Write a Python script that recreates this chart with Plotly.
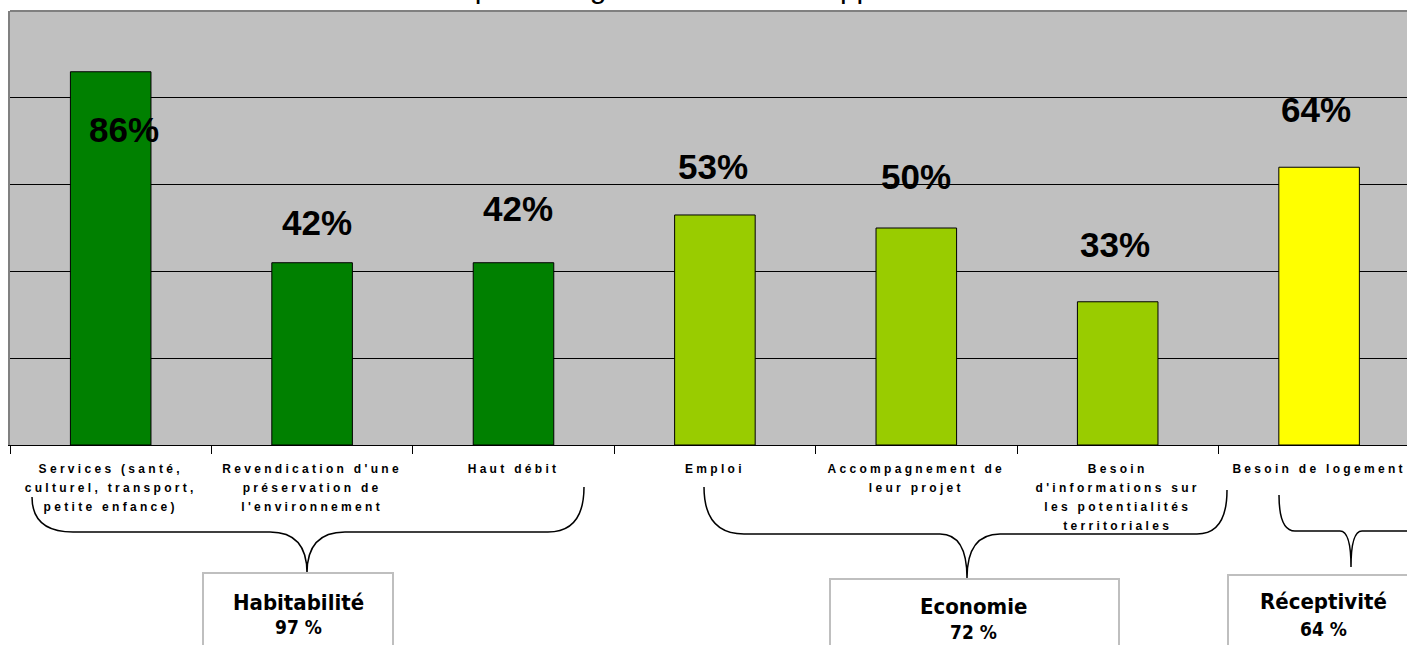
import plotly.graph_objects as go

# ---------------- data ----------------
CATEGORIES = [
    "Services (santé,<br>culturel, transport,<br>petite enfance)",
    "Revendication d'une<br>préservation de<br>l'environnement",
    "Haut débit",
    "Emploi",
    "Accompagnement de<br>leur projet",
    "Besoin<br>d'informations sur<br>les potentialités<br>territoriales",
    "Besoin de logement",
]
VALUES = [86, 42, 42, 53, 50, 33, 64]
BAR_GROUP = ["Habitabilité", "Habitabilité", "Habitabilité",
             "Economie", "Economie", "Economie", "Réceptivité"]
GROUP_NAMES = ["Habitabilité", "Economie", "Réceptivité"]
GROUP_PCT = [97, 72, 64]
TITLE = "Les priorités globales du développement"

# ---------------- style / layout ----------------
W, H = 1407, 645
ML, MR, MT, MB = 10, 0, 11, 200
CAT_PX = 201.4
PLOT_H = H - MT - MB
X_END = -0.5 + (W - ML - MR) / CAT_PX

GROUP_COLORS = {"Habitabilité": "#008000", "Economie": "#99CC00", "Réceptivité": "#FFFF00"}
LABEL_DX = [0.065, 0.025, 0.02, -0.01, 0.0, -0.015, -0.015]
LABEL_DY = [-13.4, 9.2, 12.4, 11.1, 11.8, 13.1, 13.4]

# brace / box geometry, in page pixels
BRACES = [
    dict(xl=32, yl=497, xls=73, xle=270, xc=307, yc=573, xrs=345, xre=548, xr=584, yr=487, yh=532),
    dict(xl=704, yl=487, xls=744, xle=940, xc=967, yc=578, xrs=1000, xre=1197, xr=1227, yr=490, yh=534),
    dict(xl=1279, yl=495, xls=1295, xle=1340, xc=1351, yc=567, xrs=1362, xre=1480, xr=1480, yr=531, yh=531),
]
BOXES = [
    dict(x0=203, x1=393, y0=573, tx=298, ty1=603, ty2=627),
    dict(x0=830, x1=1119, y0=579, tx=973, ty1=606, ty2=632),
    dict(x0=1228, x1=1418, y0=575, tx=1323, ty1=601, ty2=629),
]
BOX_FONT = "DejaVu Sans Condensed, DejaVu Sans"


def py(p):
    return (H - MB - p) / PLOT_H


def cx(p):
    return (p - ML) / CAT_PX - 0.5


fig = go.Figure()
fig.add_trace(go.Bar(
    x=CATEGORIES,
    y=VALUES,
    width=0.4,
    marker=dict(color=[GROUP_COLORS[g] for g in BAR_GROUP],
                line=dict(color="black", width=1)),
    hoverinfo="skip",
))

annotations = []
for i, v in enumerate(VALUES):
    annotations.append(dict(
        x=i + LABEL_DX[i], y=v + LABEL_DY[i], xref="x", yref="y",
        text=f"{v}%", showarrow=False,
        font=dict(family="Liberation Sans, Arial", size=35, color="black", weight="bold"),
        xanchor="center", yanchor="middle",
    ))

shapes = []
for b in BRACES:
    path = (
        f"M {cx(b['xl'])},{py(b['yl'])} "
        f"Q {cx(b['xl'])},{py(b['yh'])} {cx(b['xls'])},{py(b['yh'])} "
        f"L {cx(b['xle'])},{py(b['yh'])} "
        f"Q {cx(b['xc'])},{py(b['yh'])} {cx(b['xc'])},{py(b['yc'])} "
        f"Q {cx(b['xc'])},{py(b['yh'])} {cx(b['xrs'])},{py(b['yh'])} "
        f"L {cx(b['xre'])},{py(b['yh'])} "
        f"Q {cx(b['xr'])},{py(b['yh'])} {cx(b['xr'])},{py(b['yr'])}"
    )
    shapes.append(dict(type="path", path=path, xref="x", yref="paper",
                       line=dict(color="black", width=1.5)))

for bx, name, pct in zip(BOXES, GROUP_NAMES, GROUP_PCT):
    shapes.append(dict(type="rect", xref="x", yref="paper",
                       x0=cx(bx["x0"]), x1=cx(bx["x1"]), y0=py(bx["y0"]), y1=py(H + 20),
                       line=dict(color="#BFBFBF", width=2), fillcolor="white"))
    annotations.append(dict(
        x=cx(bx["tx"]), y=py(bx["ty1"]), xref="x", yref="paper",
        text=name, showarrow=False,
        font=dict(family=BOX_FONT, size=22, color="black", weight="bold"),
        xanchor="center", yanchor="middle",
    ))
    annotations.append(dict(
        x=cx(bx["tx"]), y=py(bx["ty2"]), xref="x", yref="paper",
        text=f"{pct} %", showarrow=False,
        font=dict(family=BOX_FONT, size=19, color="black", weight="bold"),
        xanchor="center", yanchor="middle",
    ))

# top border of the plot area
shapes.append(dict(type="line", xref="paper", yref="paper", x0=0, x1=1, y0=1, y1=1,
                   line=dict(color="#808080", width=2)))

# title (mostly above the visible page)
annotations.append(dict(
    x=(416 - ML) / (W - ML - MR), y=py(6), xref="paper", yref="paper",
    text=TITLE, showarrow=False,
    font=dict(family="Liberation Sans, Arial", size=30, color="black"),
    xanchor="left", yanchor="bottom",
))

fig.update_layout(
    width=W, height=H,
    margin=dict(l=ML, r=MR, t=MT, b=MB, pad=0),
    paper_bgcolor="white",
    plot_bgcolor="#C0C0C0",
    showlegend=False,
    bargap=0.6,
    shapes=shapes,
    annotations=annotations,
    xaxis=dict(
        range=[-0.5, X_END],
        showgrid=False,
        showline=True, linecolor="black", linewidth=1,
        ticks="outside", ticklen=8, tickcolor="black", tickwidth=1,
        tickson="boundaries",
        ticklabelstandoff=13,
        tickfont=dict(family="Liberation Sans, Arial", size=12, color="black", weight="bold"),
        fixedrange=True,
    ),
    yaxis=dict(
        range=[0, 100], dtick=20,
        showgrid=True, gridcolor="black", gridwidth=1,
        showticklabels=False, ticks="",
        zeroline=False,
        showline=True, linecolor="#808080", linewidth=2,
        fixedrange=True,
    ),
)

POST = """
document.body.style.margin = '0';
document.documentElement.style.overflow = 'hidden';
var gd = document.getElementById('{plot_id}');
function spaceTicks() {
  gd.querySelectorAll('.xtick text').forEach(function (t) {
    t.setAttribute('letter-spacing', '3.3px');
    t.querySelectorAll('tspan.line').forEach(function (s) {
      var dy = s.getAttribute('data-dy0');
      if (dy === null) { dy = s.getAttribute('dy') || '0'; s.setAttribute('data-dy0', dy); }
      var v = parseFloat(dy);
      if (v > 0) { s.setAttribute('dy', (v * 1.58 / 1.3) + 'em'); }
    });
  });
}
spaceTicks();
if (gd.on) { gd.on('plotly_afterplot', spaceTicks); }
"""

fig.write_html("out.html", post_script=POST, config={"displayModeBar": False})
